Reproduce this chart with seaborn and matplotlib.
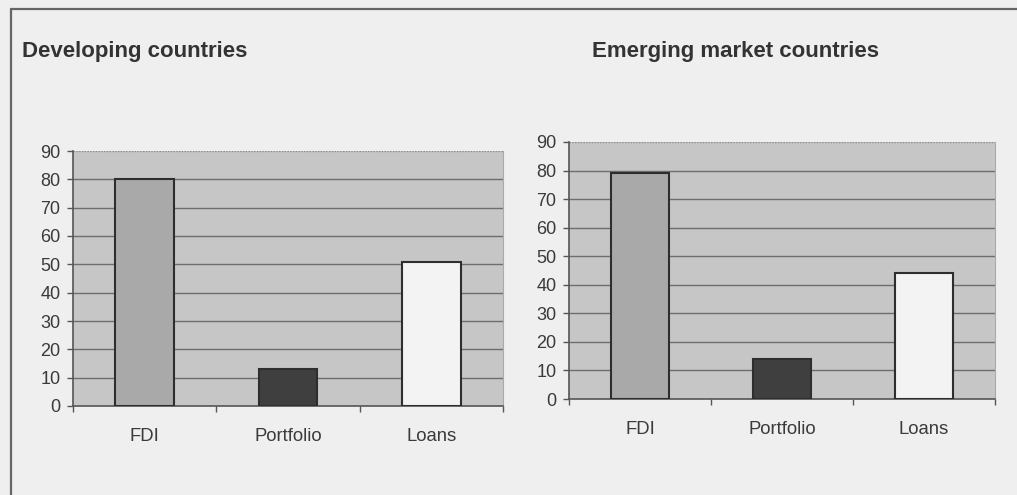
import matplotlib
matplotlib.use("Agg")
import matplotlib.pyplot as plt
import seaborn as sns
import pandas as pd
from matplotlib.lines import Line2D

# data
categories = ["FDI", "Portfolio", "Loans"]
developing = [80, 13, 51]
emerging = [79, 14, 44]
titles = ["Developing countries", "Emerging market countries"]
yticks = list(range(0, 91, 10))

bar_colors = ["#a9a9a9", "#3f3f3f", "#f3f3f3"]
text_color = "#3a3a3a"

sns.set_style("white")
plt.rcParams["font.family"] = ["Liberation Sans", "DejaVu Sans"]

fig = plt.figure(figsize=(10.17, 4.95), dpi=100)
fig.patch.set_facecolor("#efefef")

W, H = 1017, 495

def px_axes(x0, y0, x1, y1):
    return fig.add_axes([x0 / W, 1 - y1 / H, (x1 - x0) / W, (y1 - y0) / H])

ax1 = px_axes(73, 151, 503, 406)
ax2 = px_axes(569, 142, 995, 399)

for ax, vals in [(ax1, developing), (ax2, emerging)]:
    df = pd.DataFrame({"Category": categories, "Value": vals})
    ax.set_facecolor("#c6c6c6")
    sns.barplot(data=df, x="Category", y="Value", hue="Category",
                palette=bar_colors, legend=False, width=0.41,
                edgecolor="#2e2e2e", linewidth=1.5, ax=ax, zorder=3)
    ax.set_ylim(0, 90)
    ax.set_xlim(-0.5, 2.5)
    ax.set_yticks(yticks)
    ax.set_yticklabels([str(t) for t in yticks])
    for t in yticks[1:-1]:
        ax.axhline(t, color="#6e6e6e", linewidth=1, zorder=1)
    ax.axhline(90, color="#8a8a8a", linewidth=1, linestyle=(0, (1, 1)), zorder=1)
    # Excel-like ticks at category boundaries, labels centred
    ax.set_xticks([-0.5, 0.5, 1.5, 2.5])
    ax.set_xticklabels([])
    ax.set_xticks([0, 1, 2], minor=True)
    ax.set_xticklabels(categories, minor=True)
    ax.tick_params(axis="x", which="major", direction="out", length=4,
                   width=1, color="#555555", bottom=True)
    ax.tick_params(axis="x", which="minor", length=0, pad=16,
                   labelsize=13.3, labelcolor=text_color)
    ax.tick_params(axis="y", direction="out", length=4, width=1,
                   color="#555555", pad=5, labelsize=13,
                   labelcolor=text_color, left=True)
    ax.set_xlabel("")
    ax.set_ylabel("")
    ax.spines["top"].set_visible(False)
    ax.spines["right"].set_color("#aaaaaa")
    ax.spines["right"].set_linewidth(0.8)
    for s in ["left", "bottom"]:
        ax.spines[s].set_color("#555555")
        ax.spines[s].set_linewidth(1.2)

fig.text(22 / W, 1 - 51 / H, titles[0], fontsize=16, fontweight="bold",
         color="#333333", va="center", ha="left")
fig.text(592 / W, 1 - 51 / H, titles[1], fontsize=16, fontweight="bold",
         color="#333333", va="center", ha="left")

# outer frame
fig.add_artist(Line2D([10.5 / W, 10.5 / W], [-0.05, 1 - 9 / H],
                      transform=fig.transFigure, color="#666666", linewidth=1.6))
fig.add_artist(Line2D([10.5 / W, 1.05], [1 - 9 / H, 1 - 9 / H],
                      transform=fig.transFigure, color="#666666", linewidth=1.6))

plt.savefig("out.png", dpi=100, facecolor=fig.get_facecolor())
